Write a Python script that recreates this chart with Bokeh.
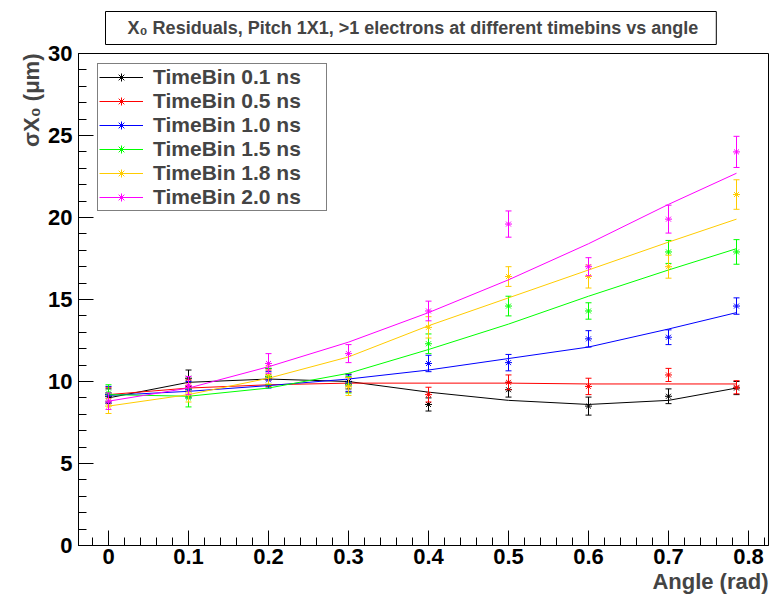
from bokeh.plotting import figure
from bokeh.models import (Range1d, Title, Legend, LegendItem, SingleIntervalTicker,
                          CustomJSTickFormatter, ColumnDataSource)
from bokeh.embed import file_html
from bokeh.resources import INLINE

# ---------------- data ----------------
angle = [0.0, 0.1, 0.2, 0.3, 0.4, 0.5, 0.6, 0.7, 0.785]

series_labels = ["TimeBin 0.1 ns", "TimeBin 0.5 ns", "TimeBin 1.0 ns",
                 "TimeBin 1.5 ns", "TimeBin 1.8 ns", "TimeBin 2.0 ns"]
series_colors = ["#000000", "#ff0000", "#0000ff", "#00ff00", "#ffcc00", "#ff00ff"]

sigma_01 = [9.1, 10.2, 10.3, 10.0, 8.6, 9.5, 8.5, 9.1, 9.6]
sigma_05 = [9.2, 9.6, 10.2, 9.8, 9.2, 9.95, 9.7, 10.4, 9.65]
sigma_10 = [9.2, 9.5, 10.1, 9.9, 11.1, 11.15, 12.6, 12.7, 14.6]
sigma_15 = [9.3, 9.0, 10.3, 9.8, 12.3, 14.6, 14.3, 17.9, 17.9]
sigma_18 = [8.5, 9.3, 10.4, 9.7, 13.3, 16.4, 16.4, 17.0, 21.4]
sigma_20 = [8.8, 9.75, 11.1, 11.7, 14.3, 19.6, 17.0, 19.9, 24.0]

err_01 = [0.45, 0.5, 0.5, 0.45, 0.4, 0.45, 0.55, 0.45, 0.4]
err_05 = [0.45, 0.5, 0.5, 0.45, 0.45, 0.45, 0.5, 0.4, 0.4]
err_10 = [0.5, 0.5, 0.5, 0.5, 0.5, 0.5, 0.5, 0.45, 0.5]
err_15 = [0.5, 0.55, 0.5, 0.5, 0.6, 0.6, 0.5, 0.7, 0.75]
err_18 = [0.45, 0.55, 0.55, 0.55, 0.65, 0.6, 0.7, 0.7, 0.9]
err_20 = [0.5, 0.55, 0.6, 0.55, 0.6, 0.8, 0.55, 0.85, 0.95]

fit_01 = [9.0, 9.95, 10.15, 10.0, 9.35, 8.85, 8.6, 8.85, 9.6]
fit_05 = [9.2, 9.6, 9.8, 9.9, 9.9, 9.9, 9.85, 9.85, 9.85]
fit_10 = [9.15, 9.4, 9.75, 10.15, 10.7, 11.4, 12.1, 13.2, 14.2]
fit_15 = [9.2, 9.1, 9.6, 10.5, 11.95, 13.5, 15.2, 16.8, 18.1]
fit_18 = [8.5, 9.2, 10.2, 11.5, 13.4, 15.1, 16.8, 18.5, 19.9]
fit_20 = [8.8, 9.6, 10.9, 12.4, 14.2, 16.2, 18.4, 20.8, 22.7]

sigmas = [sigma_01, sigma_05, sigma_10, sigma_15, sigma_18, sigma_20]
errors = [err_01, err_05, err_10, err_15, err_18, err_20]
fits = [fit_01, fit_05, fit_10, fit_15, fit_18, fit_20]

FONT = "Liberation Sans"

# ---------------- figure ----------------
p = figure(width=769, height=597, output_backend="svg", toolbar_location=None,
           x_range=Range1d(-0.0375, 0.825), y_range=Range1d(0, 30),
           min_border_left=78, min_border_right=1, min_border_top=53,
           min_border_bottom=52)
p.grid.visible = False
p.outline_line_color = "black"
p.outline_line_width = 1
p.background_fill_color = "white"
p.border_fill_color = "white"

p.xaxis.ticker = SingleIntervalTicker(interval=0.1, num_minor_ticks=5)
p.yaxis.ticker = SingleIntervalTicker(interval=5, num_minor_ticks=5)
p.xaxis.formatter = CustomJSTickFormatter(code="return (Math.round(tick*10)/10).toString();")
for ax in (p.xaxis[0], p.yaxis[0]):
    ax.major_tick_in = 15
    ax.major_tick_out = 0
    ax.minor_tick_in = 8
    ax.minor_tick_out = 0
    ax.axis_line_color = "black"
    ax.major_tick_line_color = "black"
    ax.minor_tick_line_color = "black"
    ax.major_label_text_font = FONT
    ax.major_label_text_font_style = "bold"
    ax.major_label_text_font_size = "22px"
    ax.major_label_text_color = "black"
p.xaxis.major_label_standoff = 3
p.yaxis.major_label_standoff = 6

items = []
for lab, col, sig, err, fit in zip(series_labels, series_colors, sigmas, errors, fits):
    src = ColumnDataSource(dict(
        x=angle, y=sig,
        lo=[s - e for s, e in zip(sig, err)],
        hi=[s + e for s, e in zip(sig, err)],
    ))
    fsrc = ColumnDataSource(dict(x=angle, y=fit))
    lr = p.line("x", "y", source=fsrc, line_color=col, line_width=1)
    p.segment(x0="x", y0="lo", x1="x", y1="hi", source=src, line_color=col, line_width=1)
    p.scatter("x", "lo", source=src, marker="dash", size=6, line_color=col, line_width=1)
    p.scatter("x", "hi", source=src, marker="dash", size=6, line_color=col, line_width=1)
    sr = p.scatter("x", "y", source=src, marker="asterisk", size=7, line_color=col, line_width=1)
    items.append(LegendItem(label=lab, renderers=[lr, sr]))

legend = Legend(items=items, location=(19, 334))
legend.label_text_font = FONT
legend.label_text_font_style = "bold"
legend.label_text_font_size = "21px"
legend.glyph_width = 44
legend.glyph_height = 20
legend.label_height = 20
legend.label_width = 172
legend.label_standoff = 10
legend.spacing = 0
legend.padding = 1
legend.margin = 0
legend.border_line_color = "black"
legend.border_line_width = 1
legend.background_fill_color = "white"
legend.background_fill_alpha = 1
p.add_layout(legend, "center")

# title box
title = Title(text="X\u2080 Residuals, Pitch 1X1, >1 electrons at different timebins vs angle",
              align="left", offset=27, standoff=18,
              text_font=FONT, text_font_style="bold", text_font_size="18px",
              border_line_color="black", border_line_width=1,
              background_fill_color="white")
try:
    title.padding = dict(left=22, right=18, top=6, bottom=7)
except Exception:
    pass
p.add_layout(title, "above")

xlabel = Title(text="Angle (rad)", align="right", standoff=0,
               text_font=FONT, text_font_style="bold", text_font_size="22px")
p.add_layout(xlabel, "below")

ylabel = Title(text="\u03c3X\u2080 (\u03bcm)", align="right", standoff=4,
               text_font=FONT, text_font_style="bold", text_font_size="22px")
p.add_layout(ylabel, "left")

open("out.html", "w").write(file_html(p, INLINE))
